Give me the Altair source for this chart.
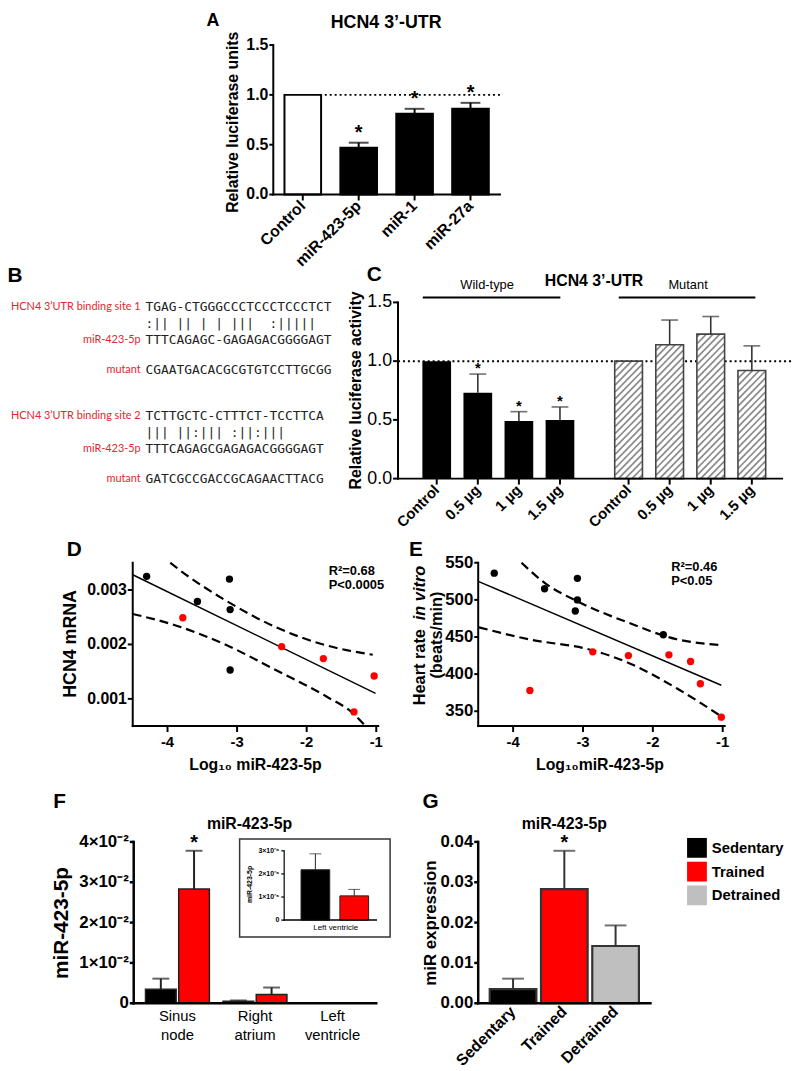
import altair as alt
import pandas as pd

FONT = "Liberation Sans"
MONO = "DejaVu Sans Mono"
LBLFONT = "Lato"
RED = "#ff0000"
LBLRED = "#e3262b"

# ---------------- data ----------------
A_cats = ["Control", "miR-423-5p", "miR-1", "miR-27a"]
A_vals = [1.0, 0.47, 0.81, 0.86]
A_errs = [None, 0.52, 0.86, 0.92]
A_sig = ["", "*", "*", "*"]
A_ref = [1.0]
A_yticks = [0.0, 0.5, 1.0, 1.5]

B_labels = ["HCN4 3’UTR binding site 1", "", "miR-423-5p", "mutant",
            "HCN4 3’UTR binding site 2", "", "miR-423-5p", "mutant"]
B_seqs = ["TGAG-CTGGGCCCTCCCTCCCTCT",
          " :|| || | | |||  :||||| ",
          "TTTCAGAGC-GAGAGACGGGGAGT",
          "CGAATGACACGCGTGTCCTTGCGG",
          "TCTTGCTC-CTTTCT-TCCTTCA",
          "     ||| ||:||| :||:|||",
          "TTTCAGAGCGAGAGACGGGGAGT",
          "GATCGCCGACCGCAGAACTTACG"]

C_cats = ["Control", "0.5 µg", "1 µg", "1.5 µg"]
C_wt = [1.0, 0.73, 0.49, 0.50]
C_wt_err = [None, 0.89, 0.57, 0.61]
C_wt_sig = ["", "*", "*", "*"]
C_mut = [1.0, 1.14, 1.23, 0.92]
C_mut_err = [None, 1.35, 1.38, 1.13]
C_ref = [1.0]
C_yticks = [0.0, 0.5, 1.0, 1.5]

D_black_x = [-4.30, -3.57, -3.11, -3.10, -3.10]
D_black_y = [0.00325, 0.00279, 0.00320, 0.00264, 0.00153]
D_red_x = [-3.78, -2.36, -1.76, -1.32, -1.03]
D_red_y = [0.00249, 0.00196, 0.00174, 0.00076, 0.00142]
D_fit_x = [-4.5, -1.01]
D_fit_y = [0.00328, 0.00110]
D_up_x = [-3.96, -3.86, -3.14, -2.43, -1.71, -1.05]
D_up_y = [0.00350, 0.00340, 0.00279, 0.00231, 0.00198, 0.00181]
D_lo_x = [-4.50, -3.86, -3.14, -2.43, -1.71, -1.33, -1.17]
D_lo_y = [0.00256, 0.00234, 0.00198, 0.00152, 0.00104, 0.00073, 0.00052]
D_xticks = [-4, -3, -2, -1]
D_yticks = [0.001, 0.002, 0.003]

E_black_x = [-4.27, -3.55, -3.08, -3.08, -3.11, -1.85]
E_black_y = [536, 515, 529, 500, 485, 453]
E_red_x = [-3.76, -2.86, -2.35, -1.77, -1.46, -1.32, -1.02]
E_red_y = [378, 430, 425, 426, 417, 387, 342]
E_fit_x = [-4.5, -1.02]
E_fit_y = [525, 385]
E_up_x = [-3.88, -3.55, -3.08, -2.37, -1.66, -1.02]
E_up_y = [550, 523, 498, 470, 447, 439]
E_lo_x = [-4.49, -3.78, -2.86, -2.37, -1.66, -1.02]
E_lo_y = [463, 447, 432, 416, 381, 343]
E_xticks = [-4, -3, -2, -1]
E_yticks = [350, 400, 450, 500, 550]

F_groups = ["Sinus node", "Right atrium", "Left ventricle"]
F_sed = [0.0035, 0.0005, 0.00000218]
F_sed_err = [0.0061, 0.0007, 0.00000287]
F_tr = [0.0283, 0.0022, 0.00000105]
F_tr_err = [0.0378, 0.0039, 0.00000133]
F_tr_sig = ["*", "", ""]
F_yticks = [0, 0.01, 0.02, 0.03, 0.04]
F_inset_yticks = [0, 1e-6, 2e-6, 3e-6]

G_cats = ["Sedentary", "Trained", "Detrained"]
G_vals = [0.0035, 0.0283, 0.0142]
G_errs = [0.0061, 0.0378, 0.0193]
G_sig = ["", "*", ""]
G_colors = ["#000000", RED, "#bfbfbf"]
G_yticks = [0, 0.01, 0.02, 0.03, 0.04]

# ---------------- layout helpers ----------------
W, H = 792, 1063


def X(p):
    return p - 8


def Y(p):
    return p - 8


ONE = pd.DataFrame({"d": [0]})


def ann(text, x, y, size=16, weight="bold", align="center", baseline="middle",
        angle=0, color="black", font=FONT, style="normal"):
    kw = dict(text=text, fontSize=size, fontWeight=weight, align=align,
              baseline=baseline, color=color, font=font, fontStyle=style)
    if angle:
        kw["angle"] = angle
    return alt.Chart(ONE).mark_text(**kw).encode(x=alt.value(X(x)), y=alt.value(Y(y)))


def hline(x1, x2, y, width=2, dash=None, color="black"):
    kw = dict(strokeWidth=width, color=color, strokeCap="square")
    if dash:
        kw["strokeDash"] = dash
        kw["strokeCap"] = "butt"
    return alt.Chart(ONE).mark_rule(**kw).encode(
        x=alt.value(X(x1)), x2=alt.value(X(x2)), y=alt.value(Y(y)))


def y_axis(sy, dom, px, values, labels, lsize=16, lweight="bold", tsz=4, w=2, pad=1):
    out = [alt.Chart(pd.DataFrame({"a": [dom[0]], "b": [dom[1]]})).mark_rule(
        strokeWidth=w, color="black", strokeCap="square").encode(
        x=alt.value(X(px)), y=alt.Y("a:Q", scale=sy, axis=None), y2="b:Q")]
    dft = pd.DataFrame({"v": values, "lab": labels})
    yv = alt.Y("v:Q", scale=sy, axis=None)
    if tsz:
        out.append(alt.Chart(dft).mark_rule(strokeWidth=w, color="black").encode(
            x=alt.value(X(px) - tsz), x2=alt.value(X(px)), y=yv))
    out.append(alt.Chart(dft).mark_text(font=FONT, fontSize=lsize, fontWeight=lweight,
                                        align="right", baseline="middle", color="black").encode(
        x=alt.value(X(px) - tsz - pad), y=yv, text="lab:N"))
    return out


def x_axis(sx, py, x1, x2, values, labels, vtype="Q", lsize=16, lweight="bold", tsz=5,
           w=2, pad=3, angle=None, ticks=True, linebreak=False, lh=19):
    out = [hline(x1, x2, py, width=w)]
    dft = pd.DataFrame({"v": values, "lab": labels})
    xv = alt.X(f"v:{vtype}", scale=sx, axis=None)
    if ticks:
        out.append(alt.Chart(dft).mark_rule(strokeWidth=w, color="black").encode(
            x=xv, y=alt.value(Y(py)), y2=alt.value(Y(py) + tsz)))
    kw = dict(font=FONT, fontSize=lsize, fontWeight=lweight, color="black")
    if angle:
        kw.update(angle=angle, align="right", baseline="middle")
    else:
        kw.update(align="center", baseline="top")
    if linebreak:
        kw.update(lineBreak="\n", lineHeight=lh)
    yoff = (tsz if ticks else 0) + pad
    out.append(alt.Chart(dft).mark_text(**kw).encode(
        x=xv, y=alt.value(Y(py) + yoff), text="lab:N"))
    return out


layers = []

# ---------------- panel A ----------------
dfA = pd.DataFrame({"cat": A_cats, "val": A_vals, "err": A_errs, "sig": A_sig})
dfA["fill"] = ["white"] + ["black"] * 3
dfAe = dfA[dfA["err"].notna()]
sxA = alt.Scale(domain=A_cats, range=[X(276), X(505)], paddingInner=0.345, paddingOuter=0.2)
syA = alt.Scale(domain=[0, 1.5], range=[Y(191), Y(40)], nice=False)
xAn = alt.X("cat:N", scale=sxA, sort=A_cats, axis=None)
barsA = alt.Chart(dfA).mark_bar(stroke="black", strokeWidth=2).encode(
    x=xAn, y=alt.Y("val:Q", scale=syA, axis=None), fill=alt.Fill("fill:N", scale=None))
dotA = alt.Chart(pd.DataFrame({"ref": A_ref})).mark_rule(
    strokeDash=[2, 3], strokeWidth=2, color="black").encode(
    x=alt.value(X(323)), x2=alt.value(X(505)), y=alt.Y("ref:Q", scale=syA, axis=None))
errA = alt.Chart(dfAe).mark_rule(strokeWidth=2, color="black").encode(
    x=xAn, y=alt.Y("val:Q", scale=syA, axis=None), y2="err:Q")
capA = alt.Chart(dfAe).mark_tick(orient="horizontal", size=20, thickness=2, color="black").encode(
    x=xAn, y=alt.Y("err:Q", scale=syA, axis=None))
sigA = alt.Chart(dfAe).mark_text(fontSize=20, fontWeight="bold", font=FONT, dy=-4,
                                 baseline="alphabetic", color="black").encode(
    x=xAn, y=alt.Y("err:Q", scale=syA, axis=None), text="sig:N")
axA = (y_axis(syA, [0, 1.5], 276, A_yticks, [f"{v:.1f}" for v in A_yticks], lsize=16)
       + x_axis(sxA, 191, 276, 505, A_cats, A_cats, vtype="N", lsize=16, tsz=6, pad=3,
                angle=315))
layers.append(alt.layer(barsA, dotA, errA, capA, sigA, *axA))

# ---------------- panel B ----------------
B_rows_y = [305, 322, 338, 368, 415, 432, 448, 478]
for lab, seq, yy in zip(B_labels, B_seqs, B_rows_y):
    if lab:
        layers.append(ann(lab, 142, yy, size=11, weight="normal", align="right",
                          color=LBLRED, font=LBLFONT))
    layers.append(ann(seq.replace(" ", "\u00a0"), 147, yy, size=13, weight="normal",
                      align="left", color="#222222", font=MONO))

# ---------------- panel C ----------------
C_px0, C_step = 437, 42.6
C_pos_wt = [float(i) for i in range(4)]
C_pos_mut = [4.67 + i for i in range(4)]
sxC = alt.Scale(domain=[(402 - C_px0) / C_step, (790 - C_px0) / C_step],
                range=[X(402), X(790)], nice=False, zero=False)
syC = alt.Scale(domain=[0, 1.5], range=[Y(478), Y(300)], nice=False)
C_unit = (478 - 300) / 1.5
dfCw = pd.DataFrame({"pos": C_pos_wt, "val": C_wt, "err": C_wt_err, "sig": C_wt_sig})
dfCm = pd.DataFrame({"pos": C_pos_mut, "val": C_mut, "err": C_mut_err})
dfCe = pd.concat([dfCw, dfCm.assign(sig="")])
dfCe = dfCe[dfCe["err"].notna()]
xCn = alt.X("pos:Q", scale=sxC, axis=None)
barsCw = alt.Chart(dfCw).mark_bar(size=29, orient="vertical", color="black").encode(
    x=xCn, y=alt.Y("val:Q", scale=syC, axis=None))
barsCm = alt.Chart(dfCm).mark_bar(size=28, orient="vertical", fill="white").encode(
    x=xCn, y=alt.Y("val:Q", scale=syC, axis=None))


def hatch(slots, vals, half_w=14.0, spacing=7.0):
    rows = []
    for s, v in zip(slots, vals):
        h = v * C_unit
        w = 2 * half_w
        c = -w + spacing / 2
        while c < h:
            xa = max(0.0, -c)
            xb = min(w, h - c)
            if xb > xa:
                rows.append({"hx": s + (xa - half_w) / C_step, "hy": (xa + c) / C_unit,
                             "hx2": s + (xb - half_w) / C_step, "hy2": (xb + c) / C_unit})
            c += spacing
    return pd.DataFrame(rows)


dfH = hatch(C_pos_mut, C_mut)
hatchC = alt.Chart(dfH).mark_rule(strokeWidth=1.7, color="#8a8a8a").encode(
    x=alt.X("hx:Q", scale=sxC, axis=None), y=alt.Y("hy:Q", scale=syC, axis=None),
    x2="hx2:Q", y2="hy2:Q")
outCm = alt.Chart(dfCm).mark_bar(size=28, orient="vertical", fillOpacity=0,
                                 stroke="#444444", strokeWidth=1.6).encode(
    x=xCn, y=alt.Y("val:Q", scale=syC, axis=None))
dotC = alt.Chart(pd.DataFrame({"ref": C_ref})).mark_rule(
    strokeDash=[2, 3], strokeWidth=2, color="black").encode(
    x=alt.value(X(402)), x2=alt.value(X(800)), y=alt.Y("ref:Q", scale=syC, axis=None))
errC = alt.Chart(dfCe).mark_rule(strokeWidth=1.6, color="#333333").encode(
    x=xCn, y=alt.Y("val:Q", scale=syC, axis=None), y2="err:Q")
capC = alt.Chart(dfCe).mark_tick(orient="horizontal", size=17, thickness=1.6, color="#333333").encode(
    x=xCn, y=alt.Y("err:Q", scale=syC, axis=None))
sigC = alt.Chart(dfCe).mark_text(fontSize=15, fontWeight="bold", font=FONT, dy=-1,
                                 baseline="alphabetic", color="black").encode(
    x=xCn, y=alt.Y("err:Q", scale=syC, axis=None), text="sig:N")
axC = (y_axis(syC, [0, 1.5], 402, C_yticks, [f"{v:.1f}" for v in C_yticks], lsize=18,
              lweight="normal", tsz=5, pad=1)
       + x_axis(sxC, 478, 402, 790, C_pos_wt + C_pos_mut, C_cats + C_cats, lsize=15,
                tsz=6, pad=3, angle=315))
layers.append(alt.layer(dotC, barsCw, barsCm, hatchC, outCm, errC, capC, sigC, *axC))

# ---------------- panels D & E ----------------


def scatter_panel(sx, sy, bx, by, rx, ry, fx, fy, ux, uy, lx, ly):
    xn = alt.X("x:Q", scale=sx, axis=None)
    yn = alt.Y("y:Q", scale=sy, axis=None)

    def line(xs, ys, **kw):
        return alt.Chart(pd.DataFrame({"x": xs, "y": ys})).mark_line(color="black", **kw).encode(x=xn, y=yn)

    def pts(xs, ys, col):
        return alt.Chart(pd.DataFrame({"x": xs, "y": ys})).mark_circle(
            size=55, opacity=1, color=col).encode(x=xn, y=yn)
    return [line(fx, fy, strokeWidth=1.5),
            line(ux, uy, strokeWidth=2.2, strokeDash=[9, 5], interpolate="monotone"),
            line(lx, ly, strokeWidth=2.2, strokeDash=[9, 5], interpolate="monotone"),
            pts(bx, by, "black"), pts(rx, ry, RED)]


sxD = alt.Scale(domain=[-4.5, -1.0], range=[X(134), X(380)], nice=False, zero=False)
syD = alt.Scale(domain=[0.0005, 0.0035], range=[Y(728), Y(563)], nice=False, zero=False)
axD = (y_axis(syD, [0.0005, 0.0035], 134, D_yticks, [f"{v:.3f}" for v in D_yticks],
              lsize=16, tsz=5, pad=1)
       + x_axis(sxD, 728, 134, 382, D_xticks, [str(v) for v in D_xticks], lsize=15, tsz=6, pad=3))
layers.append(alt.layer(*scatter_panel(sxD, syD, D_black_x, D_black_y, D_red_x, D_red_y,
                                       D_fit_x, D_fit_y, D_up_x, D_up_y, D_lo_x, D_lo_y), *axD))

sxE = alt.Scale(domain=[-4.5, -1.0], range=[X(483), X(730)], nice=False, zero=False)
syE = alt.Scale(domain=[330, 550], range=[Y(728), Y(563)], nice=False, zero=False)
axE = (y_axis(syE, [330, 550], 483, E_yticks, [str(v) for v in E_yticks], lsize=17, tsz=4, pad=1)
       + x_axis(sxE, 728, 483, 732, E_xticks, [str(v) for v in E_xticks], lsize=15, tsz=6, pad=3))
layers.append(alt.layer(*scatter_panel(sxE, syE, E_black_x, E_black_y, E_red_x, E_red_y,
                                       E_fit_x, E_fit_y, E_up_x, E_up_y, E_lo_x, E_lo_y), *axE))

# ---------------- panel F ----------------
F_sub = 17.5 / 81.7
sxF = alt.Scale(domain=[-0.5, 2.5], range=[X(135), X(380)], nice=False, zero=False)
syF = alt.Scale(domain=[0, 0.04], range=[Y(1008), Y(845)], nice=False)
rowsF = []
for g in range(3):
    rowsF.append(dict(pos=g - F_sub, val=F_sed[g], err=F_sed_err[g], col="black", sig=""))
    rowsF.append(dict(pos=g + F_sub, val=F_tr[g], err=F_tr_err[g], col=RED, sig=F_tr_sig[g]))
dfF = pd.DataFrame(rowsF)
xFn = alt.X("pos:Q", scale=sxF, axis=None)
barsF = alt.Chart(dfF).mark_bar(size=31, orient="vertical", stroke="#222222", strokeWidth=1.5).encode(
    x=xFn, y=alt.Y("val:Q", scale=syF, axis=None), fill=alt.Fill("col:N", scale=None))
dfFe = dfF[dfF["err"] > 0.0001]
errF = alt.Chart(dfFe).mark_rule(strokeWidth=2, color="#222222").encode(
    x=xFn, y=alt.Y("val:Q", scale=syF, axis=None), y2="err:Q")
capF = alt.Chart(dfFe).mark_tick(orient="horizontal", size=17, thickness=2, color="#222222").encode(
    x=xFn, y=alt.Y("err:Q", scale=syF, axis=None))
sigF = alt.Chart(dfFe).mark_text(fontSize=20, fontWeight="bold", font=FONT, dy=-2,
                                 baseline="alphabetic", color="black").encode(
    x=xFn, y=alt.Y("err:Q", scale=syF, axis=None), text="sig:N")
F_ylabels = ["0" if v == 0 else f"{round(v * 100)}×10⁻²" for v in F_yticks]
axF = (y_axis(syF, [0, 0.04], 135, F_yticks, F_ylabels, lsize=17, tsz=4, w=2.5, pad=1)
       + x_axis(sxF, 1008, 135, 380, [0, 1, 2], [g.replace(" ", "\n") for g in F_groups],
                lsize=15, lweight="normal", ticks=False, w=2.5, pad=6, linebreak=True, lh=19))
layers.append(alt.layer(barsF, errF, capF, sigF, *axF))

# inset (left ventricle)
layers.append(alt.Chart(ONE).mark_rect(fill="white", stroke="#333333", strokeWidth=1.5).encode(
    x=alt.value(X(242)), x2=alt.value(X(394)), y=alt.value(Y(842)), y2=alt.value(Y(941))))
sxI = alt.Scale(domain=[(287 - 316.7) / 44, (380 - 316.7) / 44], range=[X(287), X(380)],
                nice=False, zero=False)
syI = alt.Scale(domain=[0, 3e-6], range=[Y(924), Y(854)], nice=False)
dfI = pd.DataFrame({"pos": [0.0, 1.0], "val": [F_sed[2], F_tr[2]],
                    "err": [F_sed_err[2], F_tr_err[2]], "col": ["black", RED]})
xIn = alt.X("pos:Q", scale=sxI, axis=None)
barsI = alt.Chart(dfI).mark_bar(size=29, orient="vertical", stroke="#222222", strokeWidth=1).encode(
    x=xIn, y=alt.Y("val:Q", scale=syI, axis=None), fill=alt.Fill("col:N", scale=None))
errI = alt.Chart(dfI).mark_rule(strokeWidth=1, color="#222222").encode(
    x=xIn, y=alt.Y("val:Q", scale=syI, axis=None), y2="err:Q")
capI = alt.Chart(dfI).mark_tick(orient="horizontal", size=12, thickness=1, color="#222222").encode(
    x=xIn, y=alt.Y("err:Q", scale=syI, axis=None))
I_ylabels = ["0" if v == 0 else f"{round(v * 1e6)}×10⁻⁶" for v in F_inset_yticks]
axI = y_axis(syI, [0, 3e-6], 287, F_inset_yticks, I_ylabels, lsize=7, tsz=3, w=1.2, pad=2)
layers.append(alt.layer(barsI, errI, capI, *axI, hline(287, 380, 924, width=1.5)))
layers.append(ann("Left ventricle", 339, 932, size=8, weight="normal"))

# ---------------- panel G ----------------
dfG = pd.DataFrame({"cat": G_cats, "val": G_vals, "err": G_errs, "sig": G_sig})
sxG = alt.Scale(domain=G_cats, range=[X(483), X(657)], paddingInner=0.09, paddingOuter=0.225)
syG = alt.Scale(domain=[0, 0.04], range=[Y(1008), Y(845)], nice=False)
xGn = alt.X("cat:N", scale=sxG, sort=G_cats, axis=None)
barsG = alt.Chart(dfG).mark_bar(stroke="#333333", strokeWidth=2.2).encode(
    x=xGn, y=alt.Y("val:Q", scale=syG, axis=None),
    color=alt.Color("cat:N", scale=alt.Scale(domain=G_cats, range=G_colors),
                    legend=alt.Legend(orient="none", legendX=X(694), legendY=Y(841),
                                      title=None, symbolType="square", symbolSize=400,
                                      symbolStrokeWidth=0, labelFont=FONT, labelFontSize=15,
                                      labelFontWeight="bold", labelColor="black",
                                      rowPadding=4, labelOffset=5, padding=0)))
errG = alt.Chart(dfG).mark_rule(strokeWidth=2, color="#333333").encode(
    x=xGn, y=alt.Y("val:Q", scale=syG, axis=None), y2="err:Q")
capG = alt.Chart(dfG).mark_tick(orient="horizontal", size=22, thickness=2, color="#333333").encode(
    x=xGn, y=alt.Y("err:Q", scale=syG, axis=None))
sigG = alt.Chart(dfG).mark_text(fontSize=20, fontWeight="bold", font=FONT, dy=-2,
                                baseline="alphabetic", color="black").encode(
    x=xGn, y=alt.Y("err:Q", scale=syG, axis=None), text="sig:N")
axG = (y_axis(syG, [0, 0.04], 483, G_yticks, [f"{v:.2f}" for v in G_yticks], lsize=17,
              tsz=4, w=2.5, pad=1)
       + x_axis(sxG, 1008, 483, 657, G_cats, G_cats, vtype="N", lsize=16, ticks=False,
                w=2.5, pad=6, angle=315))
layers.append(alt.layer(barsG, errG, capG, sigG, *axG))

# ---------------- annotations ----------------
layers += [
    ann("A", 215, 16, size=18),
    ann("HCN4 3’-UTR", 390, 18, size=18),
    ann("Relative luciferase units", 235, 118, size=16, angle=270),
    ann("B", 15, 273, size=21),
    ann("C", 378, 272, size=21),
    ann("HCN4 3’-UTR", 600, 278, size=16),
    ann("Wild-type", 492, 282, size=13, weight="normal"),
    ann("Mutant", 695, 282, size=13, weight="normal"),
    hline(428, 565, 295),
    hline(626, 762, 295),
    ann("Relative luciferase activity", 360, 389, size=16, angle=270),
    ann("D", 75, 550, size=21),
    ann("E", 420, 550, size=21),
    ann("HCN4 mRNA", 72, 645, size=18, angle=270),
    ann("Log₁₀ miR-423-5p", 258, 767, size=16),
    ann("Log₁₀miR-423-5p", 606, 767, size=16),
    ann("R²=0.68", 332, 571, size=13, align="left"),
    ann("P<0.0005", 332, 586, size=13, align="left"),
    ann("R²=0.46", 678, 567, size=13, align="left"),
    ann("P<0.05", 678, 581, size=13, align="left"),
    ann("Heart rate", 424, 707, size=16.5, align="left", angle=270),
    ann("in vitro", 424, 621, size=16.5, align="left", angle=270, style="italic"),
    ann("(beats/min)", 441, 636, size=16.5, angle=270),
    ann("F", 60, 805, size=21),
    ann("G", 435, 805, size=21),
    ann("miR-423-5p", 252, 827, size=16),
    ann("miR-423-5p", 570, 827, size=16),
    ann("miR-423-5p", 63, 927, size=21, angle=270),
    ann("miR-423-5p", 252, 888, size=7, angle=270),
    ann("miR expression", 435, 927, size=17, angle=270),
]

chart = alt.layer(*layers).resolve_scale(
    x="independent", y="independent", color="independent"
).properties(
    width=W, height=H, padding=0, background="white",
    autosize=alt.AutoSizeParams(type="none"),
).configure_view(stroke=None).configure_axis(grid=False)

chart.save("out.html", embed_options={"renderer": "svg", "actions": False})
